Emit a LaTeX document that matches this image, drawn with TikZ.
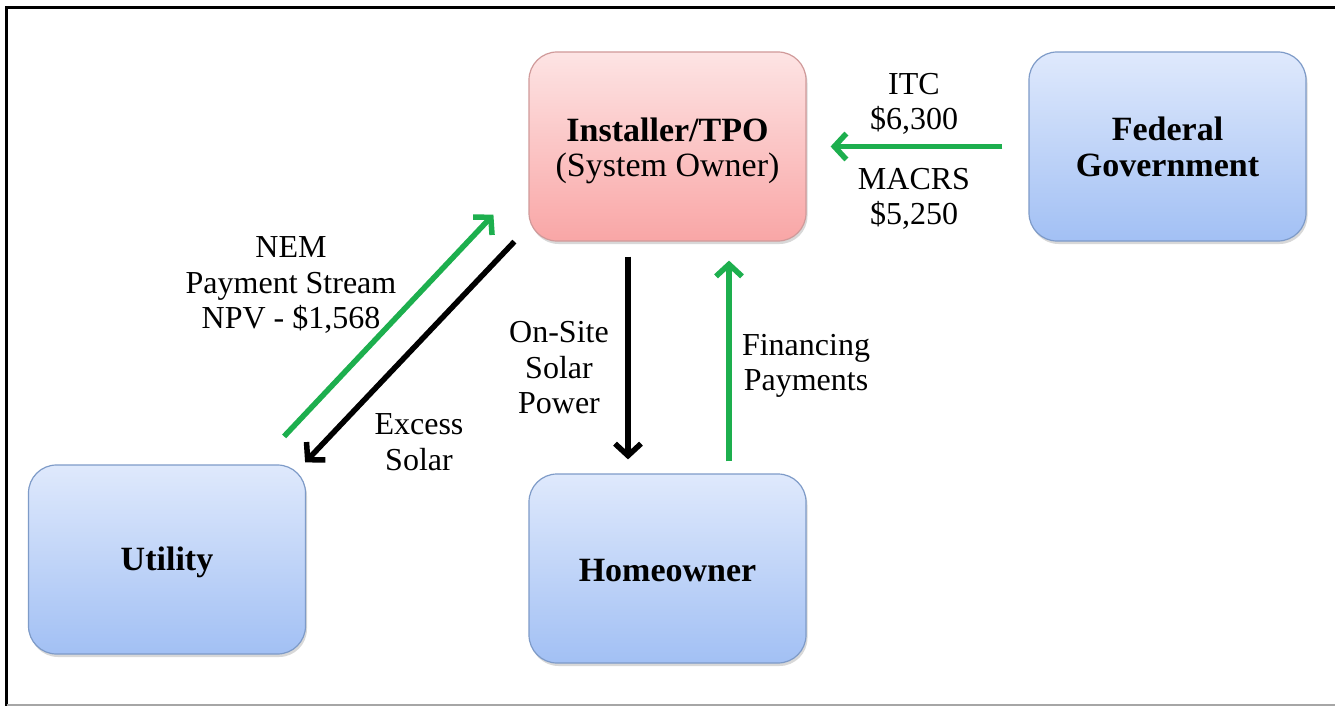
\documentclass[tikz,border=0pt]{standalone}
\usepackage{fontspec}
\setmainfont{Liberation Serif}
\usetikzlibrary{arrows.meta,shadows,calc}
\definecolor{grn}{HTML}{1DAF4E}
\definecolor{blueT}{HTML}{DFE9FC}
\definecolor{blueB}{HTML}{A2C0F4}
\definecolor{blueD}{HTML}{7E9BC8}
\definecolor{pinkT}{HTML}{FDE4E4}
\definecolor{pinkB}{HTML}{F9A6A6}
\definecolor{pinkD}{HTML}{D09A9A}
\tikzset{
  boxbase/.style={rounded corners=28pt, minimum width=277pt, minimum height=189pt,
    line width=1.2pt, align=center, inner sep=0pt,
    drop shadow={shadow xshift=1.5pt, shadow yshift=-3pt, opacity=0.3, fill=gray},
    font=\fontsize{34}{35.5}\selectfont\bfseries},
  bluebox/.style={boxbase, top color=blueT, bottom color=blueB, draw=blueD},
  pinkbox/.style={boxbase, top color=pinkT, bottom color=pinkB, draw=pinkD},
  lbl/.style={align=center, inner sep=0pt, font=\fontsize{32}{35.5}\selectfont},
  garrow/.style={draw=grn, line width=5.5pt, -{Straight Barb[length=12pt,width=26pt]}},
  karrow/.style={draw=black, line width=5.5pt, -{Straight Barb[length=12pt,width=26pt]}},
  frameline/.style={line width=3.5pt, draw=black}
}
\newcommand{\topgap}{\rule{0pt}{32pt}}
\begin{document}
\begin{tikzpicture}[x=1pt,y=-1pt]
\useasboundingbox (0,0) rectangle (1335,706);
\fill[white] (0,0) rectangle (1335,706);
% frame
\coordinate (ftl) at (6.5,7.5);
\coordinate (ftr) at (1335,7.5);
\coordinate (fbl) at (6.5,706);
\coordinate (bl) at (6.5,704.5);
\coordinate (br) at (1335,704.5);
\draw[frameline] (ftr) -- (ftl) -- (fbl);
\draw[gray!70, line width=2pt] (bl) -- (br);

% boxes
\node[pinkbox] (inst) at (667.5,146.5) {\topgap Installer/TPO\\\mdseries(System Owner)};
\node[bluebox] (fed) at (1167.5,146.5) {\rule{0pt}{24pt}Federal\\Government};
\node[bluebox] (util) at (167,559.5) {\rule{0pt}{30pt}Utility};
\node[bluebox] (home) at (667.5,568.5) {\rule{0pt}{27pt}Homeowner};

% arrows
\draw[garrow] ([xshift=-26pt]fed.west) -- ([xshift=24pt]inst.east);
\draw[garrow] ([xshift=-22pt,yshift=28pt]util.north east) -- ([xshift=-35pt,yshift=27pt]inst.south west);
\draw[karrow] ([xshift=-14pt]inst.south west) -- ([xshift=-1pt,yshift=2pt]util.north east);
\draw[karrow] ([xshift=-39.5pt,yshift=-15pt]inst.south) -- ([xshift=-39.5pt,yshift=14pt]home.north);
\draw[garrow] ([xshift=61.5pt,yshift=12pt]home.north) -- ([xshift=61.5pt,yshift=-19pt]inst.south);

% labels
\node[lbl] (litc) at (914,104) {ITC\\\$6,300};
\node[lbl] (lmacrs) at (914,199) {MACRS\\\$5,250};
\node[lbl] (lnem) at (291,285) {NEM\\Payment Stream\\NPV - \$1,568};
\node[lbl] (lonsite) at (559,368) {On-Site\\Solar\\Power};
\node[lbl] (lfin) at (806,366) {Financing\\Payments};
\node[lbl] (lexcess) at (419,442) {Excess\\Solar};
\end{tikzpicture}
\end{document}
